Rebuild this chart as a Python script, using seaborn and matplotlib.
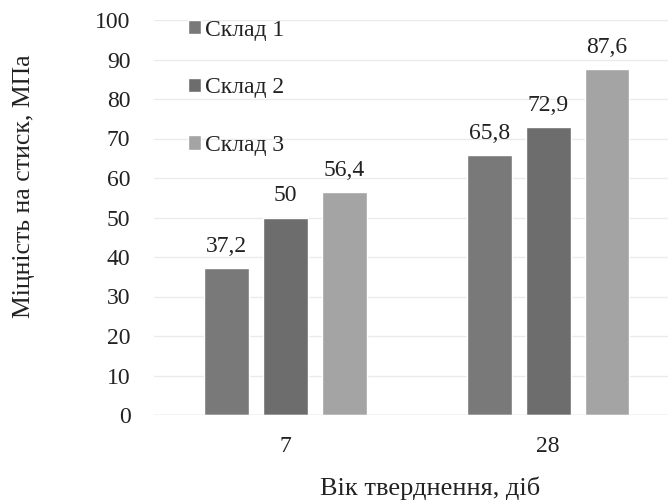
import matplotlib
matplotlib.use("Agg")
import matplotlib.pyplot as plt
import seaborn as sns
import pandas as pd

categories = ["7", "28"]
series = ["Склад 1", "Склад 2", "Склад 3"]
values_s1 = [37.2, 65.8]
values_s2 = [50.0, 72.9]
values_s3 = [56.4, 87.6]
yticks = [0, 10, 20, 30, 40, 50, 60, 70, 80, 90, 100]

rows = []
for s, vals in zip(series, [values_s1, values_s2, values_s3]):
    for c, v in zip(categories, vals):
        rows.append({"age": c, "value": v, "series": s})
df = pd.DataFrame(rows)

sns.set_theme(style="white")
plt.rcParams['font.family'] = ['Liberation Serif', 'DejaVu Serif']

fig = plt.figure(figsize=(6.68, 5.01), dpi=100)
ax = fig.add_axes([154/668, 86/501, (668-154)/668, (415-20)/501])

palette = {"Склад 1": "#797979", "Склад 2": "#6d6d6d", "Склад 3": "#a4a4a4"}
sns.barplot(data=df, x="age", y="value", hue="series", order=categories,
            hue_order=series, palette=palette, width=0.672, gap=0.24,
            saturation=1, ax=ax, zorder=3)

for cont in ax.containers:
    labels = [("%g" % b.get_height()).replace(".", ",") for b in cont]
    ax.bar_label(cont, labels=labels, padding=8, fontsize=17, color="#222222")

ax.set_ylim(0, 100)
ax.set_yticks(yticks)
ax.set_xlim(-0.5, 1.456)
ax.yaxis.grid(True, color="#ebebeb", linewidth=1, zorder=0)
for sp in ax.spines.values():
    sp.set_visible(False)
ax.axhline(0, color="#d9d9d9", linewidth=1, zorder=4)
ax.tick_params(axis='both', length=0, labelsize=17, colors="#222222")
ax.tick_params(axis='y', pad=17)
ax.tick_params(axis='x', pad=15)
ax.set_xlabel("Вік тверднення, діб", fontsize=19, color="#222222")
ax.set_ylabel("Міцність на стиск, МПа", fontsize=18.5, color="#222222")
ax.xaxis.set_label_coords(0.537, -0.155)
ax.yaxis.set_label_coords(-0.232, 0.58)

leg = ax.legend(loc="upper left", bbox_to_anchor=(0.047, 1.025), frameon=False,
                fontsize=17, handlelength=0.55, handleheight=0.55,
                handletextpad=0.2, labelspacing=1.55, borderaxespad=0)
for t in leg.get_texts():
    t.set_color("#222222")

fig.savefig("out.png", dpi=100)
